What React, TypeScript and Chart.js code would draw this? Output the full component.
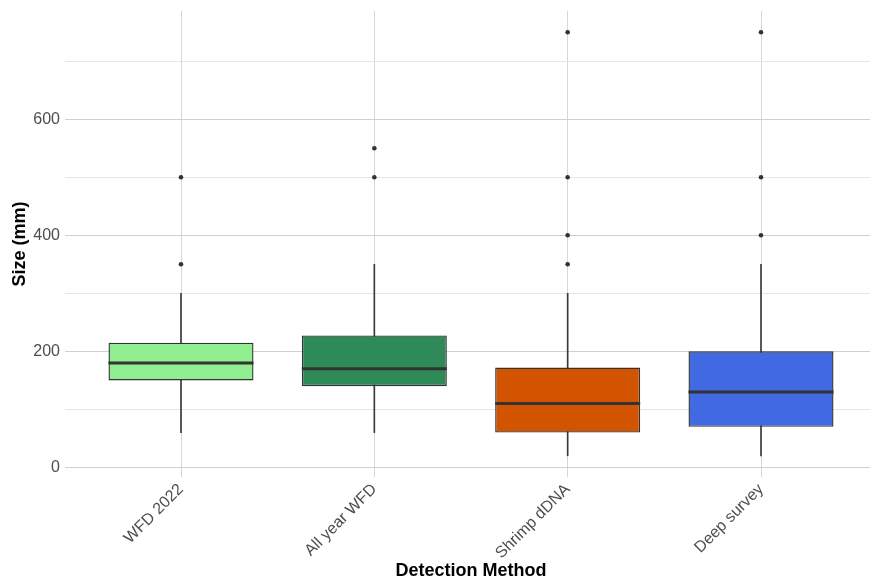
import React, { useEffect, useRef } from 'react';
import { Chart, registerables } from 'chart.js';

Chart.register(...registerables);

// ---- Data ----
const categories = ['WFD 2022', 'All year WFD', 'Shrimp dDNA', 'Deep survey'];
const q1 = [150, 140, 60, 70];
const median = [180, 170, 110, 130];
const q3 = [215, 227.5, 172, 200];
const whiskerLow = [60, 60, 20, 20];
const whiskerHigh = [300, 350, 300, 350];
const outliers: number[][] = [
  [350, 500],
  [500, 550],
  [350, 400, 500, 750],
  [400, 500, 750],
];
const fillColors = ['#90EE90', '#2E8B57', '#D35400', '#4169E1'];
const yMajorTicks = [0, 200, 400, 600];
const yMinorTicks = [100, 300, 500, 700];

// ---- Layout / style constants ----
const BOX_WIDTH = 0.75; // in category units
const X_MIN = -0.6;
const X_MAX = 3.6;
const Y_MIN = -16.5;
const Y_MAX = 786.5;
const FONT = "'Liberation Sans', Arial, sans-serif";
const DARK = '#333333';
const CANVAS_W = 881;
const CANVAS_H = 582;

export default function App() {
  const ref = useRef<HTMLCanvasElement>(null);

  useEffect(() => {
    const canvas = ref.current;
    if (!canvas) return;
    Chart.defaults.font.family = FONT;

    const idx = categories.map((_, i) => i);
    const boxData = idx.map((i) => ({ x: i, y: [q1[i], q3[i]] }));
    const whiskerData = idx.map((i) => ({ x: i, y: [whiskerLow[i], whiskerHigh[i]] }));
    const medianData = idx.map((i) => ({ x: i, y: median[i] }));
    const outlierData = idx.flatMap((i) => outliers[i].map((v) => ({ x: i, y: v })));

    const halfBoxPx = (c: any) => {
      const s = c.chart.scales.x;
      if (!s) return 70;
      return Math.abs(s.getPixelForValue(BOX_WIDTH / 2) - s.getPixelForValue(0));
    };

    const allGrid = [...yMajorTicks, ...yMinorTicks].sort((a, b) => a - b);

    const chart = new Chart(canvas, {
      type: 'bar',
      data: {
        datasets: [
          {
            type: 'scatter',
            data: outlierData,
            pointRadius: 2.3,
            pointBackgroundColor: DARK,
            pointBorderWidth: 0,
            order: 0,
          } as any,
          {
            type: 'scatter',
            data: medianData,
            pointStyle: 'line',
            pointRadius: halfBoxPx,
            pointBorderWidth: 3,
            pointBorderColor: DARK,
            order: 1,
          } as any,
          {
            type: 'bar',
            data: boxData,
            backgroundColor: fillColors,
            borderColor: DARK,
            borderWidth: 1.4,
            borderSkipped: false,
            grouped: false,
            barPercentage: BOX_WIDTH,
            categoryPercentage: 1,
            order: 2,
          } as any,
          {
            type: 'bar',
            data: whiskerData,
            backgroundColor: '#3a3a3a',
            borderWidth: 0,
            barThickness: 1,
            grouped: false,
            order: 3,
          } as any,
        ],
      },
      options: {
        responsive: false,
        animation: false,
        events: [],
        layout: { padding: { top: 11, right: 0, bottom: 0, left: 0 } },
        plugins: {
          legend: { display: false },
          tooltip: { enabled: false },
        },
        scales: {
          x: {
            type: 'linear',
            min: X_MIN,
            max: X_MAX,
            offset: false,
            afterBuildTicks: (scale: any) => {
              scale.ticks = idx.map((v) => ({ value: v }));
            },
            afterFit: (scale: any) => {
              scale.height = 105;
              scale.paddingLeft = 0;
              scale.paddingRight = 0;
            },
            border: { display: false },
            grid: {
              color: '#d6d6d6',
              lineWidth: 1,
              drawTicks: false,
              offset: false,
            },
            ticks: {
              autoSkip: false,
              minRotation: 45,
              maxRotation: 45,
              padding: 3,
              color: '#4d4d4d',
              font: { size: 16, family: FONT },
              callback: (v: any) => categories[Math.round(Number(v))] ?? '',
            },
            title: {
              display: true,
              text: 'Detection Method',
              color: '#000000',
              font: { size: 18, weight: 'bold', family: FONT },
              padding: { top: 4, bottom: 0 },
            },
          },
          y: {
            type: 'linear',
            min: Y_MIN,
            max: Y_MAX,
            afterBuildTicks: (scale: any) => {
              scale.ticks = allGrid.map((v) => ({ value: v }));
            },
            afterFit: (scale: any) => {
              scale.width = 65;
              scale.paddingTop = 0;
              scale.paddingBottom = 0;
            },
            border: { display: false },
            grid: {
              color: (c: any) =>
                c.tick && yMajorTicks.includes(c.tick.value) ? '#cfcfcf' : '#e6e6e6',
              lineWidth: 1,
              drawTicks: false,
            },
            ticks: {
              padding: 5,
              color: '#4d4d4d',
              font: { size: 16, family: FONT },
              callback: (v: any) => (yMajorTicks.includes(Number(v)) ? String(v) : ''),
            },
            title: {
              display: true,
              text: 'Size (mm)',
              color: '#000000',
              font: { size: 18, weight: 'bold', family: FONT },
              padding: { top: 9, bottom: 0 },
            },
          },
        },
      } as any,
    });

    return () => chart.destroy();
  }, []);

  return (
    <div
      style={{
        position: 'absolute',
        left: 0,
        top: 0,
        width: 870,
        height: 582,
        overflow: 'hidden',
        background: '#ffffff',
      }}
    >
      <canvas ref={ref} width={CANVAS_W} height={CANVAS_H} style={{ display: 'block' }} />
    </div>
  );
}
